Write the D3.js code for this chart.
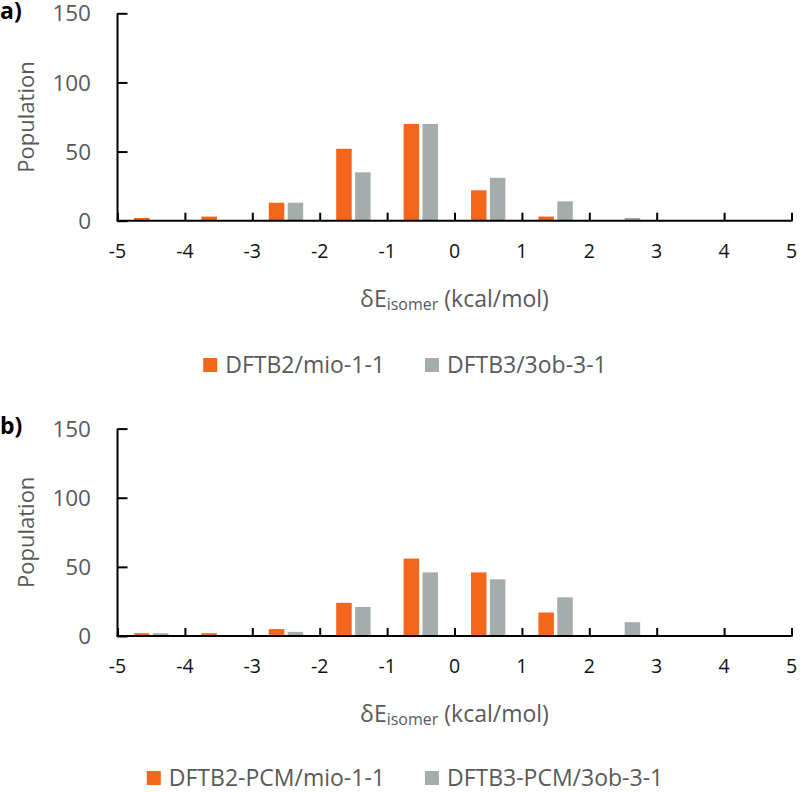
<!DOCTYPE html>
<html>
<head>
<meta charset="utf-8">
<script src="https://cdn.jsdelivr.net/npm/d3@7"></script>
<style>
  html, body { margin: 0; padding: 0; background: #fff; }
  svg { display: block; font-family: "Open Sans", Lato, sans-serif; }
</style>
</head>
<body>
<svg id="chart" width="800" height="792"></svg>
<script>
// ---- data ----
const binStarts = [-5, -4, -3, -2, -1, 0, 1, 2, 3, 4];
const xTicks = [-5, -4, -3, -2, -1, 0, 1, 2, 3, 4, 5];
const yTicks = [0, 50, 100, 150];
const panelLabels = ["a)", "b)"];

const dftb2 = [2, 3, 13, 52, 70, 22, 3, 0, 0, 0];
const dftb3 = [0, 0, 13, 35, 70, 31, 14, 2, 0, 0];
const dftb2pcm = [2, 2, 5, 24, 56, 46, 17, 0, 0, 0];
const dftb3pcm = [2, 0, 3, 21, 46, 41, 28, 10, 0, 0];

const seriesNamesA = ["DFTB2/mio-1-1", "DFTB3/3ob-3-1"];
const seriesNamesB = ["DFTB2-PCM/mio-1-1", "DFTB3-PCM/3ob-3-1"];

const ORANGE = "#F4661B";
const GRAY = "#A5ACAC";
const TEXT_GRAY = "#595959";

const svg = d3.select("#chart");

const x = d3.scaleLinear().domain([-5, 5]).range([117.5, 791.5]);

function drawPanel(dy, label, s1, s2, names, legendY) {
  const g = svg.append("g").attr("transform", `translate(0,${dy})`);
  const y = d3.scaleLinear().domain([0, 150]).range([220.7, 13.3]);
  const bw = x(1) - x(0);

  // bars
  const barW = 0.23 * bw;
  const half = 0.025 * bw;
  g.append("g").selectAll("rect").data(binStarts).join("rect")
    .attr("x", (d) => x(d + 0.5) - half - barW)
    .attr("width", barW)
    .attr("y", (d, i) => y(s1[i]))
    .attr("height", (d, i) => y(0) - y(s1[i]))
    .attr("fill", ORANGE);
  g.append("g").selectAll("rect").data(binStarts).join("rect")
    .attr("x", (d) => x(d + 0.5) + half)
    .attr("width", barW)
    .attr("y", (d, i) => y(s2[i]))
    .attr("height", (d, i) => y(0) - y(s2[i]))
    .attr("fill", GRAY);

  // y axis
  const yAx = g.append("g").attr("transform", `translate(${x(-5)},0)`)
    .call(d3.axisRight(y).tickValues(yTicks).tickSize(10).tickFormat(""));
  yAx.select(".domain").attr("stroke", "#000").attr("stroke-width", 2).attr("d", `M0,${y(150)}V${y(0)}`);
  yAx.selectAll(".tick line").attr("stroke", "#000").attr("stroke-width", 2);
  g.append("g").selectAll("text").data(yTicks).join("text")
    .attr("x", 91).attr("y", (d) => y(d)).attr("dy", "0.36em")
    .attr("text-anchor", "end").attr("font-size", 22.5).attr("fill", TEXT_GRAY)
    .text((d) => d);

  // x axis
  const xAx = g.append("g").attr("transform", `translate(0,${y(0)})`)
    .call(d3.axisTop(x).tickValues(xTicks).tickSize(8).tickFormat(""));
  xAx.select(".domain").attr("stroke", "#000").attr("stroke-width", 2).attr("d", `M${x(-5) - 1},0H${x(5) + 1}`);
  xAx.selectAll(".tick line").attr("stroke", "#000").attr("stroke-width", 2);
  g.append("g").selectAll("text").data(xTicks).join("text")
    .attr("x", (d) => x(d)).attr("y", 258)
    .attr("text-anchor", "middle").attr("font-size", 19.5).attr("fill", "#111")
    .text((d) => d);

  // axis titles
  const xt = g.append("text").attr("x", (x(-5) + x(5)) / 2).attr("y", 307)
    .attr("text-anchor", "middle").attr("font-size", 23).attr("fill", TEXT_GRAY);
  xt.append("tspan").text("δE");
  xt.append("tspan").attr("font-size", 16).attr("dy", 3).text("isomer");
  xt.append("tspan").attr("dy", -3).text(" (kcal/mol)");

  g.append("text").attr("transform", `translate(34,${(y(0) + y(150)) / 2}) rotate(-90)`)
    .attr("text-anchor", "middle").attr("font-size", 22).attr("fill", TEXT_GRAY)
    .text("Population");

  // panel label
  g.append("text").attr("x", 0).attr("y", 19).attr("font-size", 23).attr("font-weight", "bold")
    .attr("fill", "#000").text(label);

  // legend
  const lg = svg.append("g");
  const items = [{ name: names[0], color: ORANGE }, { name: names[1], color: GRAY }];
  let cx = 0;
  const pos = [];
  items.forEach((it, i) => {
    const t = lg.append("text").attr("font-size", 23).attr("fill", TEXT_GRAY).attr("y", legendY).text(it.name);
    const w = t.node().getComputedTextLength();
    pos.push({ t, sx: cx, tx: cx + 22, color: it.color });
    cx += 22 + w + (i === 0 ? 40 : 0);
  });
  const start = 405 - cx / 2;
  pos.forEach((p) => {
    lg.append("rect").attr("x", start + p.sx).attr("y", legendY - 15).attr("width", 14).attr("height", 14).attr("fill", p.color);
    p.t.attr("x", start + p.tx);
  });
}

drawPanel(0, panelLabels[0], dftb2, dftb3, seriesNamesA, 373);
drawPanel(415.3, panelLabels[1], dftb2pcm, dftb3pcm, seriesNamesB, 786);
</script>
</body>
</html>
